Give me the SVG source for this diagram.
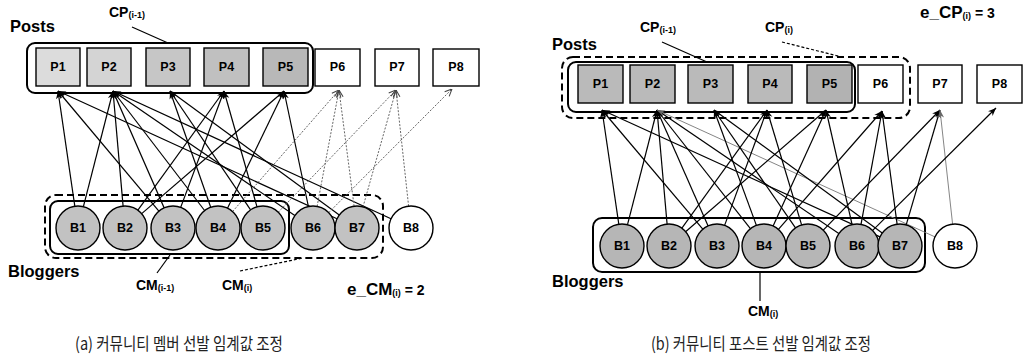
<svg xmlns="http://www.w3.org/2000/svg" width="1025" height="364" viewBox="0 0 1025 364">
  <style>
    .lbl { font-family: "Liberation Sans", Arial, sans-serif; fill: #000; }
    .title { font-size: 16.5px; font-weight: bold; }
    .nid { font-size: 12.5px; font-weight: bold; text-anchor: middle; }
    .set { font-size: 14px; font-weight: bold; }
    .sub { font-size: 9px; }
    .eq { font-size: 17px; font-weight: bold; }
    .cap { font-family: "Noto Sans CJK KR", "Noto Sans", sans-serif; font-size: 17px; fill: #222; }
    .post { stroke: #000; stroke-width: 1.4; }
    .blog { stroke: #000; stroke-width: 1.4; }
    .grp { fill: none; stroke: #000; stroke-width: 2; }
    .grpd { fill: none; stroke: #000; stroke-width: 2; stroke-dasharray: 7 4; }
    .e { stroke: #000; stroke-width: 1.2; fill: none; marker-end: url(#ah); }
    .ed { stroke: #555; stroke-width: 0.9; stroke-dasharray: 2 1.5; fill: none; marker-end: url(#ao); }
    .eg { stroke: #777; stroke-width: 0.9; fill: none; marker-end: url(#ag); }
    .lead { stroke: #000; stroke-width: 1.2; fill: none; }
    .leadd { stroke: #000; stroke-width: 1.2; stroke-dasharray: 3 2; fill: none; }
  </style>
  <defs>
    <marker id="ah" viewBox="0 0 10 10" refX="10" refY="5" markerWidth="8" markerHeight="8" markerUnits="userSpaceOnUse" orient="auto">
      <path d="M0,1 L10,5 L0,9 L3,5 z" fill="#000"/>
    </marker>
    <marker id="ao" viewBox="0 0 10 10" refX="10" refY="5" markerWidth="8" markerHeight="8" markerUnits="userSpaceOnUse" orient="auto">
      <path d="M1,1 L10,5 L1,9" fill="none" stroke="#444" stroke-width="1.3"/>
    </marker>
    <marker id="ag" viewBox="0 0 10 10" refX="10" refY="5" markerWidth="8" markerHeight="8" markerUnits="userSpaceOnUse" orient="auto">
      <path d="M0,1 L10,5 L0,9 L3,5 z" fill="#666"/>
    </marker>
  </defs>
  <rect width="1025" height="364" fill="#fff"/>

  <!-- ===== (a) community member threshold ===== -->
  <g id="a-labels" class="lbl">
    <text class="title" x="10" y="32">Posts</text>
    <text class="title" x="8" y="277">Bloggers</text>
    <text class="set" x="109" y="17">CP<tspan class="sub" dy="1">(i-1)</tspan></text>
    <text class="set" x="136" y="290">CM<tspan class="sub" dy="1">(i-1)</tspan></text>
    <text class="set" x="222" y="290">CM<tspan class="sub" dy="1">(i)</tspan></text>
    <text class="eq" x="347" y="295">e_CM<tspan class="sub" font-size="10" dy="1">(i)</tspan><tspan font-size="14" dy="-1"> = 2</tspan></text>
    <path class="lead" d="M132,27 L168,43"/>
    <path class="lead" d="M157,273 L170,255"/>
    <path class="leadd" d="M240,271 L303,258"/>
  </g>

  <g id="a-groups">
    <rect class="grp" x="27" y="43" width="286" height="50" rx="8"/>
    <rect class="grpd" x="45" y="195" width="338" height="63" rx="11"/>
    <rect class="grp" x="50" y="201" width="239" height="53" rx="8"/>
  </g>

  <g id="a-edges">
    <path class="e" d="M74.8,206.2 L58,91"/>
    <path class="e" d="M83.4,206.7 L113,91"/>
    <path class="e" d="M158.9,211.2 L58,91"/>
    <path class="e" d="M337,218.8 L58,91"/>
    <path class="e" d="M123.1,206.1 L113,91"/>
    <path class="e" d="M164.2,207.9 L113,91"/>
    <path class="e" d="M204.6,210.5 L113,91"/>
    <path class="e" d="M294.8,215.6 L113,91"/>
    <path class="e" d="M391,218.8 L113,91"/>
    <path class="e" d="M210.7,207.2 L170,91"/>
    <path class="e" d="M250.6,209.8 L170,91"/>
    <path class="e" d="M339.3,215 L170,91"/>
    <path class="e" d="M137.9,210.2 L224,91"/>
    <path class="e" d="M180.7,207.4 L224,91"/>
    <path class="e" d="M257,206.8 L224,91"/>
    <path class="e" d="M141.7,213.6 L284,91"/>
    <path class="e" d="M227.5,208.2 L284,91"/>
    <path class="e" d="M308.4,206.5 L284,91"/>
    <path class="ed" d="M232.6,211.5 L339,90"/>
    <path class="ed" d="M317.1,206.4 L339,90"/>
    <path class="ed" d="M354.1,206.2 L339,90"/>
    <path class="ed" d="M278.3,212.2 L396,90"/>
    <path class="ed" d="M363,206.9 L396,90"/>
    <path class="ed" d="M408.6,206.1 L396,90"/>
    <path class="ed" d="M328.7,212.6 L452,89"/>
  </g>

  <g id="a-P1"><rect class="post" x="36" y="48" width="44" height="38" fill="#dcdcdc"/><text class="lbl nid" x="58" y="71">P1</text></g>
  <g id="a-P2"><rect class="post" x="87" y="48" width="44" height="38" fill="#d4d4d4"/><text class="lbl nid" x="109" y="71">P2</text></g>
  <g id="a-P3"><rect class="post" x="146" y="48" width="44" height="38" fill="#c6c6c6"/><text class="lbl nid" x="168" y="71">P3</text></g>
  <g id="a-P4"><rect class="post" x="204" y="48" width="45" height="38" fill="#c0c0c0"/><text class="lbl nid" x="226.5" y="71">P4</text></g>
  <g id="a-P5"><rect class="post" x="263" y="48" width="45" height="38" fill="#b8b8b8"/><text class="lbl nid" x="285.5" y="71">P5</text></g>
  <g id="a-P6"><rect class="post" x="315" y="49" width="45" height="37" fill="#fff"/><text class="lbl nid" x="337.5" y="71">P6</text></g>
  <g id="a-P7"><rect class="post" x="375" y="49" width="44" height="37" fill="#fff"/><text class="lbl nid" x="397" y="71">P7</text></g>
  <g id="a-P8"><rect class="post" x="433" y="49" width="46" height="37" fill="#fff"/><text class="lbl nid" x="456" y="71">P8</text></g>

  <g id="a-B1"><circle class="blog" cx="78" cy="228" r="22" fill="#c2c2c2"/><text class="lbl nid" x="78" y="232">B1</text></g>
  <g id="a-B2"><circle class="blog" cx="125" cy="228" r="22" fill="#c2c2c2"/><text class="lbl nid" x="125" y="232">B2</text></g>
  <g id="a-B3"><circle class="blog" cx="173" cy="228" r="22" fill="#c2c2c2"/><text class="lbl nid" x="173" y="232">B3</text></g>
  <g id="a-B4"><circle class="blog" cx="218" cy="228" r="22" fill="#c2c2c2"/><text class="lbl nid" x="218" y="232">B4</text></g>
  <g id="a-B5"><circle class="blog" cx="263" cy="228" r="22" fill="#c2c2c2"/><text class="lbl nid" x="263" y="232">B5</text></g>
  <g id="a-B6"><circle class="blog" cx="313" cy="228" r="22" fill="#c2c2c2"/><text class="lbl nid" x="313" y="232">B6</text></g>
  <g id="a-B7"><circle class="blog" cx="357" cy="228" r="22" fill="#c2c2c2"/><text class="lbl nid" x="357" y="232">B7</text></g>
  <g id="a-B8"><circle class="blog" cx="411" cy="228" r="22" fill="#fff"/><text class="lbl nid" x="411" y="232">B8</text></g>

  <!-- ===== (b) community post threshold ===== -->
  <g id="b-labels" class="lbl">
    <text class="title" x="552" y="50">Posts</text>
    <text class="title" x="552" y="287">Bloggers</text>
    <text class="set" x="640" y="32">CP<tspan class="sub" dy="1">(i-1)</tspan></text>
    <text class="set" x="765" y="32">CP<tspan class="sub" dy="1">(i)</tspan></text>
    <text class="set" x="748" y="316">CM<tspan class="sub" dy="1">(i)</tspan></text>
    <text class="eq" x="920" y="18">e_CP<tspan class="sub" font-size="10" dy="1">(i)</tspan><tspan font-size="14" dy="-1"> = 3</tspan></text>
    <path class="lead" d="M662,42 L707,62"/>
    <path class="leadd" d="M782,42 L842,57"/>
    <path class="lead" d="M760,273 L760,301"/>
  </g>

  <g id="b-groups">
    <rect class="grpd" x="562" y="57" width="348" height="61" rx="11"/>
    <rect class="grp" x="568" y="62" width="287" height="50" rx="8"/>
    <rect class="grp" x="593" y="218" width="332" height="54" rx="9"/>
  </g>

  <g id="b-edges">
    <path class="e" d="M618.8,224.2 L602,110"/>
    <path class="e" d="M627.5,224.7 L657,110"/>
    <path class="e" d="M702.8,229.2 L602,110"/>
    <path class="e" d="M880,236.9 L602,110"/>
    <path class="e" d="M667.1,224.1 L657,110"/>
    <path class="e" d="M708.1,225.9 L657,110"/>
    <path class="e" d="M750.4,228.7 L657,110"/>
    <path class="e" d="M838.8,233.6 L657,110"/>
    <path class="eg" d="M935,236.9 L657,110"/>
    <path class="e" d="M756.4,225.4 L714,110"/>
    <path class="e" d="M795.5,227.9 L714,110"/>
    <path class="e" d="M882.2,233 L714,110"/>
    <path class="e" d="M681.9,228.1 L767,110"/>
    <path class="e" d="M724.6,225.4 L767,110"/>
    <path class="e" d="M801.6,224.9 L767,110"/>
    <path class="e" d="M685.6,231.7 L826,110"/>
    <path class="e" d="M773.1,226 L826,110"/>
    <path class="e" d="M852.1,224.6 L826,110"/>
    <path class="e" d="M778.4,229.4 L882,111"/>
    <path class="e" d="M861,224.4 L882,111"/>
    <path class="e" d="M897.1,224.2 L882,111"/>
    <path class="e" d="M823.3,230.2 L940,110"/>
    <path class="e" d="M906.2,224.9 L940,110"/>
    <path class="eg" d="M952.6,224.1 L940,110"/>
    <path class="e" d="M872.7,230.4 L996,108"/>
  </g>

  <g id="b-P1"><rect class="post" x="578" y="65" width="45" height="38" fill="#bababa"/><text class="lbl nid" x="600.5" y="88">P1</text></g>
  <g id="b-P2"><rect class="post" x="630" y="65" width="45" height="38" fill="#bababa"/><text class="lbl nid" x="652.5" y="88">P2</text></g>
  <g id="b-P3"><rect class="post" x="688" y="65" width="45" height="38" fill="#bababa"/><text class="lbl nid" x="710.5" y="88">P3</text></g>
  <g id="b-P4"><rect class="post" x="748" y="65" width="44" height="38" fill="#bababa"/><text class="lbl nid" x="770" y="88">P4</text></g>
  <g id="b-P5"><rect class="post" x="807" y="65" width="45" height="38" fill="#b2b2b2"/><text class="lbl nid" x="829.5" y="88">P5</text></g>
  <g id="b-P6"><rect class="post" x="858" y="65" width="45" height="38" fill="#fff"/><text class="lbl nid" x="880.5" y="88">P6</text></g>
  <g id="b-P7"><rect class="post" x="918" y="65" width="44" height="38" fill="#fff"/><text class="lbl nid" x="940" y="88">P7</text></g>
  <g id="b-P8"><rect class="post" x="977" y="65" width="45" height="38" fill="#fff"/><text class="lbl nid" x="999.5" y="88">P8</text></g>

  <g id="b-B1"><circle class="blog" cx="622" cy="246" r="22" fill="#b6b6b6"/><text class="lbl nid" x="622" y="250">B1</text></g>
  <g id="b-B2"><circle class="blog" cx="669" cy="246" r="22" fill="#b6b6b6"/><text class="lbl nid" x="669" y="250">B2</text></g>
  <g id="b-B3"><circle class="blog" cx="717" cy="246" r="22" fill="#b6b6b6"/><text class="lbl nid" x="717" y="250">B3</text></g>
  <g id="b-B4"><circle class="blog" cx="764" cy="246" r="22" fill="#b6b6b6"/><text class="lbl nid" x="764" y="250">B4</text></g>
  <g id="b-B5"><circle class="blog" cx="808" cy="246" r="22" fill="#b6b6b6"/><text class="lbl nid" x="808" y="250">B5</text></g>
  <g id="b-B6"><circle class="blog" cx="857" cy="246" r="22" fill="#b6b6b6"/><text class="lbl nid" x="857" y="250">B6</text></g>
  <g id="b-B7"><circle class="blog" cx="900" cy="246" r="22" fill="#b6b6b6"/><text class="lbl nid" x="900" y="250">B7</text></g>
  <g id="b-B8"><circle class="blog" cx="955" cy="246" r="22" fill="#fff"/><text class="lbl nid" x="955" y="250">B8</text></g>

  <!-- captions -->
  <text class="cap" x="75" y="350" textLength="208" lengthAdjust="spacingAndGlyphs">(a) 커뮤니티 멤버 선발 임계값 조정</text>
  <text class="cap" x="651" y="350" textLength="220" lengthAdjust="spacingAndGlyphs">(b) 커뮤니티 포스트 선발 임계값 조정</text>
</svg>
